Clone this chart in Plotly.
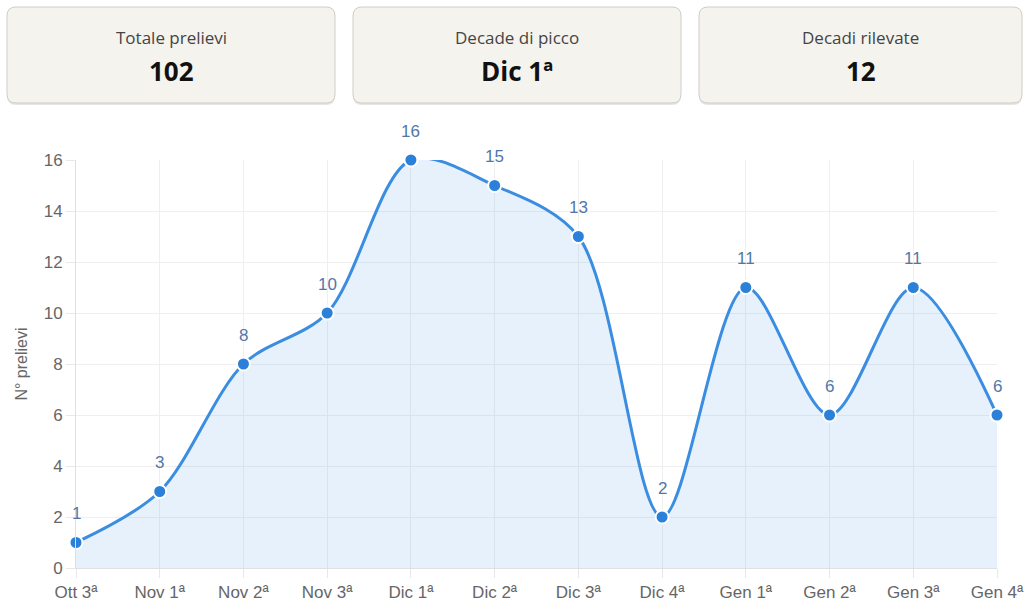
import plotly.graph_objects as go

categories = ["Ott 3ª", "Nov 1ª", "Nov 2ª", "Nov 3ª", "Dic 1ª", "Dic 2ª",
              "Dic 3ª", "Dic 4ª", "Gen 1ª", "Gen 2ª", "Gen 3ª", "Gen 4ª"]
prelievi = [1, 3, 8, 10, 16, 15, 13, 2, 11, 6, 11, 6]
y_ticks = [0, 2, 4, 6, 8, 10, 12, 14, 16]

card_titles = ["Totale prelievi", "Decade di picco", "Decadi rilevate"]
card_values = ["102", "Dic 1ª", "12"]

W, H = 1024, 603
# plot area in screen pixels: x 76..997, y 160..568
PX0, PX1, PY0, PY1 = 76, 997, 160, 568
L, R, T, B = PX0, W - PX1, PY0, H - PY1
PW, PH = PX1 - PX0, PY1 - PY0

def px(x):
    return (x - PX0) / PW

def py(y):
    return (PY1 - y) / PH

def rounded(x0, y0, x1, y1, r):
    X0, X1 = px(x0), px(x1)
    Y0, Y1 = py(y0), py(y1)
    rx, ry = r / PW, r / PH
    return (f"M {X0+rx},{Y0} L {X1-rx},{Y0} Q {X1},{Y0} {X1},{Y0-ry} "
            f"L {X1},{Y1+ry} Q {X1},{Y1} {X1-rx},{Y1} L {X0+rx},{Y1} "
            f"Q {X0},{Y1} {X0},{Y1+ry} L {X0},{Y0-ry} Q {X0},{Y0} {X0+rx},{Y0} Z")

fig = go.Figure()
fig.add_trace(go.Scatter(
    x=list(range(len(categories))), y=prelievi,
    mode="lines+markers",
    line=dict(color="#3a8de0", width=3, shape="spline", smoothing=0.9),
    fill="tozeroy", fillcolor="rgba(58,141,224,0.12)",
    marker=dict(size=13, color="#2b80da", line=dict(color="white", width=2)),
    cliponaxis=False, hoverinfo="skip",
))

annotations = []
for i, v in enumerate(prelievi):
    annotations.append(dict(
        x=i, y=v, xref="x", yref="y", text=str(v), showarrow=False,
        yshift=29, font=dict(family="Liberation Sans, Arial", size=17, color="#4f78a8")))

shapes = []
card_x = [(7, 335), (353, 681), (699, 1022)]
for (x0, x1), t, v in zip(card_x, card_titles, card_values):
    shapes.append(dict(type="path", xref="paper", yref="paper",
                       path=rounded(x0, 9, x1, 105, 9),
                       fillcolor="rgba(0,0,0,0.10)", line=dict(width=0), layer="below"))
    shapes.append(dict(type="path", xref="paper", yref="paper",
                       path=rounded(x0, 7, x1, 103, 9),
                       fillcolor="#f5f3ee", line=dict(color="#cfcdc8", width=1), layer="below"))
    cx = px((x0 + x1) / 2)
    annotations.append(dict(x=cx, y=py(38), xref="paper", yref="paper", text=t,
                            showarrow=False, xanchor="center", yanchor="middle",
                            font=dict(family="Open Sans, Noto Sans", size=17, color="#444444")))
    annotations.append(dict(x=cx, y=py(71), xref="paper", yref="paper", text=f"<b>{v}</b>",
                            showarrow=False, xanchor="center", yanchor="middle",
                            font=dict(family="Open Sans, Noto Sans", size=26, color="#111111")))

tickfont = dict(family="Liberation Sans, Arial", size=17, color="#666666")
fig.update_layout(
    width=W, height=H,
    margin=dict(l=L, r=R, t=T, b=B, autoexpand=False),
    paper_bgcolor="white", plot_bgcolor="white",
    showlegend=False,
    shapes=shapes, annotations=annotations,
    xaxis=dict(range=[0, len(categories) - 1], tickmode="array",
               tickvals=list(range(len(categories))), ticktext=categories,
               showgrid=True, gridcolor="#efefef", gridwidth=1,
               ticks="outside", ticklen=9, tickcolor="#e8e8e8",
               showline=True, linecolor="#e0e0e0", zeroline=False,
               tickfont=tickfont, ticklabeloverflow="allow"),
    yaxis=dict(range=[0, 16], tickmode="array", tickvals=y_ticks,
               showgrid=True, gridcolor="#efefef", gridwidth=1,
               ticks="outside", ticklen=9, tickcolor="#e8e8e8",
               showline=True, linecolor="#e0e0e0", zeroline=False,
               tickfont=tickfont,
               title=dict(text="N° prelievi", standoff=12,
                          font=dict(family="Liberation Sans, Arial", size=16, color="#666666"))),
)

fig.write_html("out.html", config={"displayModeBar": False},
               post_script="document.body.style.margin='0';document.body.style.overflow='hidden';")
